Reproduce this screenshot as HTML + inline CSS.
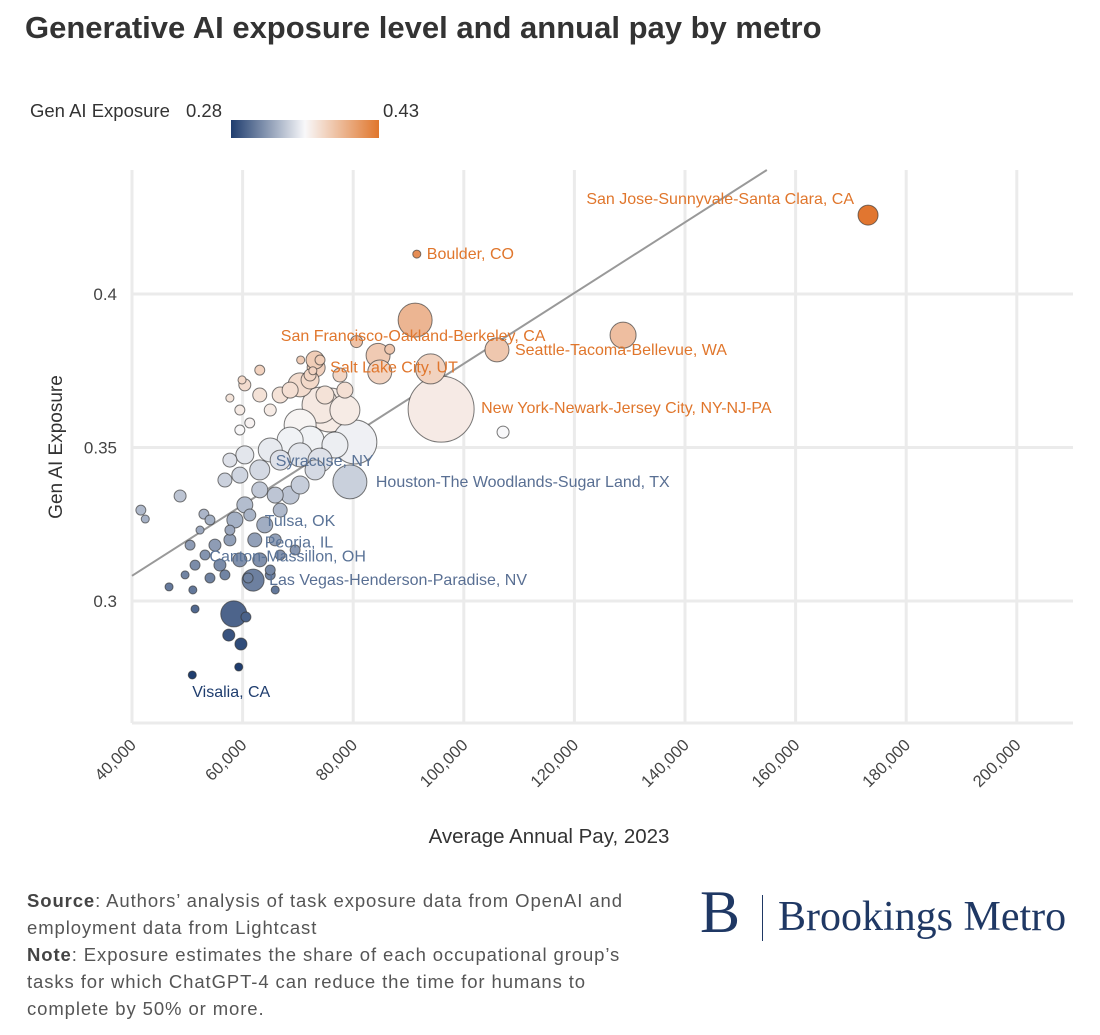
<!DOCTYPE html>
<html><head><meta charset="utf-8">
<style>
html,body{margin:0;padding:0;background:#fff;}
body{width:1100px;height:1035px;overflow:hidden;font-family:"Liberation Sans",sans-serif;position:relative;}
#title{position:absolute;left:25px;top:10px;font-size:31px;font-weight:bold;color:#333;white-space:nowrap;}
.ft{position:absolute;left:27px;font-size:18.5px;color:#555;line-height:27px;white-space:nowrap;letter-spacing:0.9px;}
</style></head><body>
<div id="title">Generative AI exposure level and annual pay by metro</div>
<svg id="chart" width="1100" height="870" style="position:absolute;left:0;top:0"></svg>
<div class="ft" style="top:887px"><b style="color:#444">Source</b>: Authors’ analysis of task exposure data from OpenAI and<br>employment data from Lightcast<br><b style="color:#444">Note</b>: Exposure estimates the share of each occupational group’s<br>tasks for which ChatGPT-4 can reduce the time for humans to<br>complete by 50% or more.</div>
<div style="position:absolute;left:700px;top:890px;height:56px;font-family:'Liberation Serif',serif;color:#1f3864;">
<span style="font-size:60px;position:absolute;left:0;top:-12px">B</span>
<span style="position:absolute;left:62px;top:5px;width:1px;height:46px;background:#1f3864"></span>
<span style="font-size:42px;position:absolute;left:78px;top:3px;white-space:nowrap">Brookings Metro</span>
</div>
<script>
const pay=[173.1,91.5,91.2,128.8,106,95.9,73.3,84.5,84.8,94,80.6,86.6,70.5,72.7,107.1,79.4,61.9,50.9,58.4,60.6,57.5,59.7,59.3,51,51.4,46.7,41.6,42.4,48.7,53,
75.8,80.3,74,70.4,78.5,72.2,68.6,65,76.7,70.4,66.8,63.1,60.4,59.5,57.7,56.8,63.1,60.4,65.9,58.6,64,62.2,57.7,55,55.9,59.5,63.1,65.9,66.8,69.5,53.2,50.5,51.4,49.6,54.1,56.8,65,65.9,65,61,57.7,54.1,52.3,61.3,66.8,68.6,70.4,73.1,74,59.5,61.3,65,59.5,57.7,60.4,63.1,66.8,70.4,72.2,68.6,73.1,74.9,77.6,78.5,63.1,59.9,72.2,74];
const expo=[0.4257,0.413,0.3915,0.3866,0.3818,0.3625,0.376,0.380,0.3746,0.3756,0.3845,0.382,0.3785,0.3750,0.355,0.3388,0.3068,0.2759,0.2958,0.2948,0.2889,0.286,0.2785,0.3036,0.2974,0.3046,0.3296,0.3267,0.3342,0.3283,
0.3622,0.3518,0.3638,0.3573,0.3622,0.3524,0.3524,0.3492,0.3508,0.3476,0.3459,0.3427,0.3476,0.341,0.3459,0.3394,0.3362,0.3313,0.3345,0.3264,0.3248,0.3199,0.3199,0.3182,0.3117,0.3134,0.3134,0.3199,0.315,0.3166,0.315,0.3182,0.3117,0.3085,0.3075,0.3085,0.3085,0.3036,0.3101,0.3075,0.3231,0.3264,0.3231,0.328,0.3296,0.3345,0.3378,0.3427,0.3459,0.3557,0.358,0.3622,0.3622,0.3661,0.3704,0.3671,0.3671,0.3704,0.372,0.3687,0.3785,0.3671,0.3736,0.3687,0.3752,0.3720,0.3736,0.3785];
const emp=[278,45,803,470,400,3025,225,400,400,625,100,69,45,45,100,803,336,45,470,69,100,100,45,45,45,45,69,45,100,69,
1344,1344,900,711,625,544,470,400,470,400,278,278,225,178,136,136,178,178,178,178,178,136,100,100,100,136,136,100,69,69,69,69,69,45,69,69,69,45,69,69,69,69,45,100,136,225,225,278,400,69,69,100,69,45,100,136,178,400,225,178,225,225,136,178,69,45,100,69];
const labels=[[0,"San Jose-Sunnyvale-Santa Clara, CA","end",-14,-16],[1,"Boulder, CO","start",10,0],[2,"San Francisco-Oakland-Berkeley, CA","middle",-2,16],[4,"Seattle-Tacoma-Bellevue, WA","start",18,0],[6,"Salt Lake City, UT","start",14,0],[5,"New York-Newark-Jersey City, NY-NJ-PA","start",40,-1],[15,"Houston-The Woodlands-Sugar Land, TX","start",26,0],[16,"Las Vegas-Henderson-Paradise, NV","start",16,0],[17,"Visalia, CA","start",0,17]];
const extraLabels=[[66,0.3456,"Syracuse, NY"],[64,0.3261,"Tulsa, OK"],[64,0.3190,"Peoria, IL"],[54,0.3145,"Canton-Massillon, OH"]];
const xTicks=[40000,60000,80000,100000,120000,140000,160000,180000,200000];
const yTicks=[0.3,0.35,0.4];
const trend=[[40,0.3082],[154.8,0.4404]];
const X0=132,X1=1073,Y0=170,Y1=723;
const xs=k=>X0+(k-40)*5.53;
const ys=v=>294+(0.4-v)*3070;
const NS="http://www.w3.org/2000/svg";
const svg=document.getElementById('chart');
function mk(t,a,p){const e=document.createElementNS(NS,t);for(const k in a)e.setAttribute(k,a[k]);(p||svg).appendChild(e);return e;}
function lerp(a,b,t){return a.map((v,i)=>Math.round(v+(b[i]-v)*t));}
function col(v){const lo=[31,61,110],mid=[248,248,250],hi=[224,110,36];const m=0.355;
 if(v<m){const t=Math.max(0,(v-0.28)/(m-0.28));return 'rgb('+lerp(lo,mid,t)+')';}
 const t=Math.min(1,(v-m)/(0.43-m));return 'rgb('+lerp(mid,hi,t)+')';}
function lcol(v){return v>0.355?'#e0762c':col(Math.min(v,0.3));}
xTicks.forEach(t=>{const x=xs(t/1000);
 const g=mk('line',{x1:x,x2:x,y1:Y0,y2:Y1,stroke:'#ebebeb','stroke-width':3});
 const tx=mk('text',{x:x+5,y:Y1+23,'font-size':16.5,fill:'#444','text-anchor':'end',transform:`rotate(-45 ${x+5} ${Y1+23})`});tx.textContent=t.toLocaleString('en-US');
 });
yTicks.forEach(t=>{const y=ys(t);
 const g=mk('line',{x1:X0,x2:X1,y1:y,y2:y,stroke:'#ebebeb','stroke-width':3});
 const tx=mk('text',{x:117,y:y+6,'font-size':17,fill:'#444','text-anchor':'end'});tx.textContent=String(t);
 });
const bl=mk('line',{x1:X0,x2:X1,y1:Y1,y2:Y1,stroke:'#ebebeb','stroke-width':3});

{let [a,b]=trend;const l=mk('line',{x1:xs(a[0]),y1:ys(a[1]),x2:xs(b[0]),y2:ys(b[1]),stroke:'#999','stroke-width':2});
}
const idx=pay.map((_,i)=>i).sort((a,b)=>emp[b]-emp[a]);
idx.forEach(i=>{const c=mk('circle',{cx:xs(pay[i]),cy:ys(expo[i]),r:0.6*Math.sqrt(emp[i]),fill:col(expo[i]),stroke:'#333','stroke-opacity':0.65,'stroke-width':1});
 });
labels.forEach(([i,t,anc,dx,dy])=>{const e=mk('text',{x:xs(pay[i])+dx,y:ys(expo[i])+dy+5,'font-size':16,fill:lcol(expo[i]),'text-anchor':anc});e.textContent=t;
 });
extraLabels.forEach(([p,v,t])=>{const e=mk('text',{x:xs(p),y:ys(v)+5,'font-size':16,fill:'#5a7397'});e.textContent=t;
 });
let at=mk('text',{x:549,y:843,'font-size':20.5,fill:'#333','text-anchor':'middle'});at.textContent='Average Annual Pay, 2023';

at=mk('text',{x:62,y:447,'font-size':19,fill:'#333','text-anchor':'middle',transform:'rotate(-90 62 447)'});at.textContent='Gen AI Exposure';

const defs=mk('defs',{});const gr=mk('linearGradient',{id:'lg'},defs);
[['0','#1f3d6e'],['0.5','#f8f8fa'],['1','#e0762c']].forEach(([o,c])=>mk('stop',{offset:o,'stop-color':c},gr));
const lt=mk('text',{x:30,y:117,'font-size':18.5,fill:'#333'});lt.textContent='Gen AI Exposure';
const l1=mk('text',{x:186,y:117,'font-size':18.5,fill:'#333'});l1.textContent='0.28';
const l2=mk('text',{x:383,y:117,'font-size':18.5,fill:'#333'});l2.textContent='0.43';
const lb=mk('rect',{x:231,y:120,width:148,height:18,fill:'url(#lg)'});
</script>
</body></html>
